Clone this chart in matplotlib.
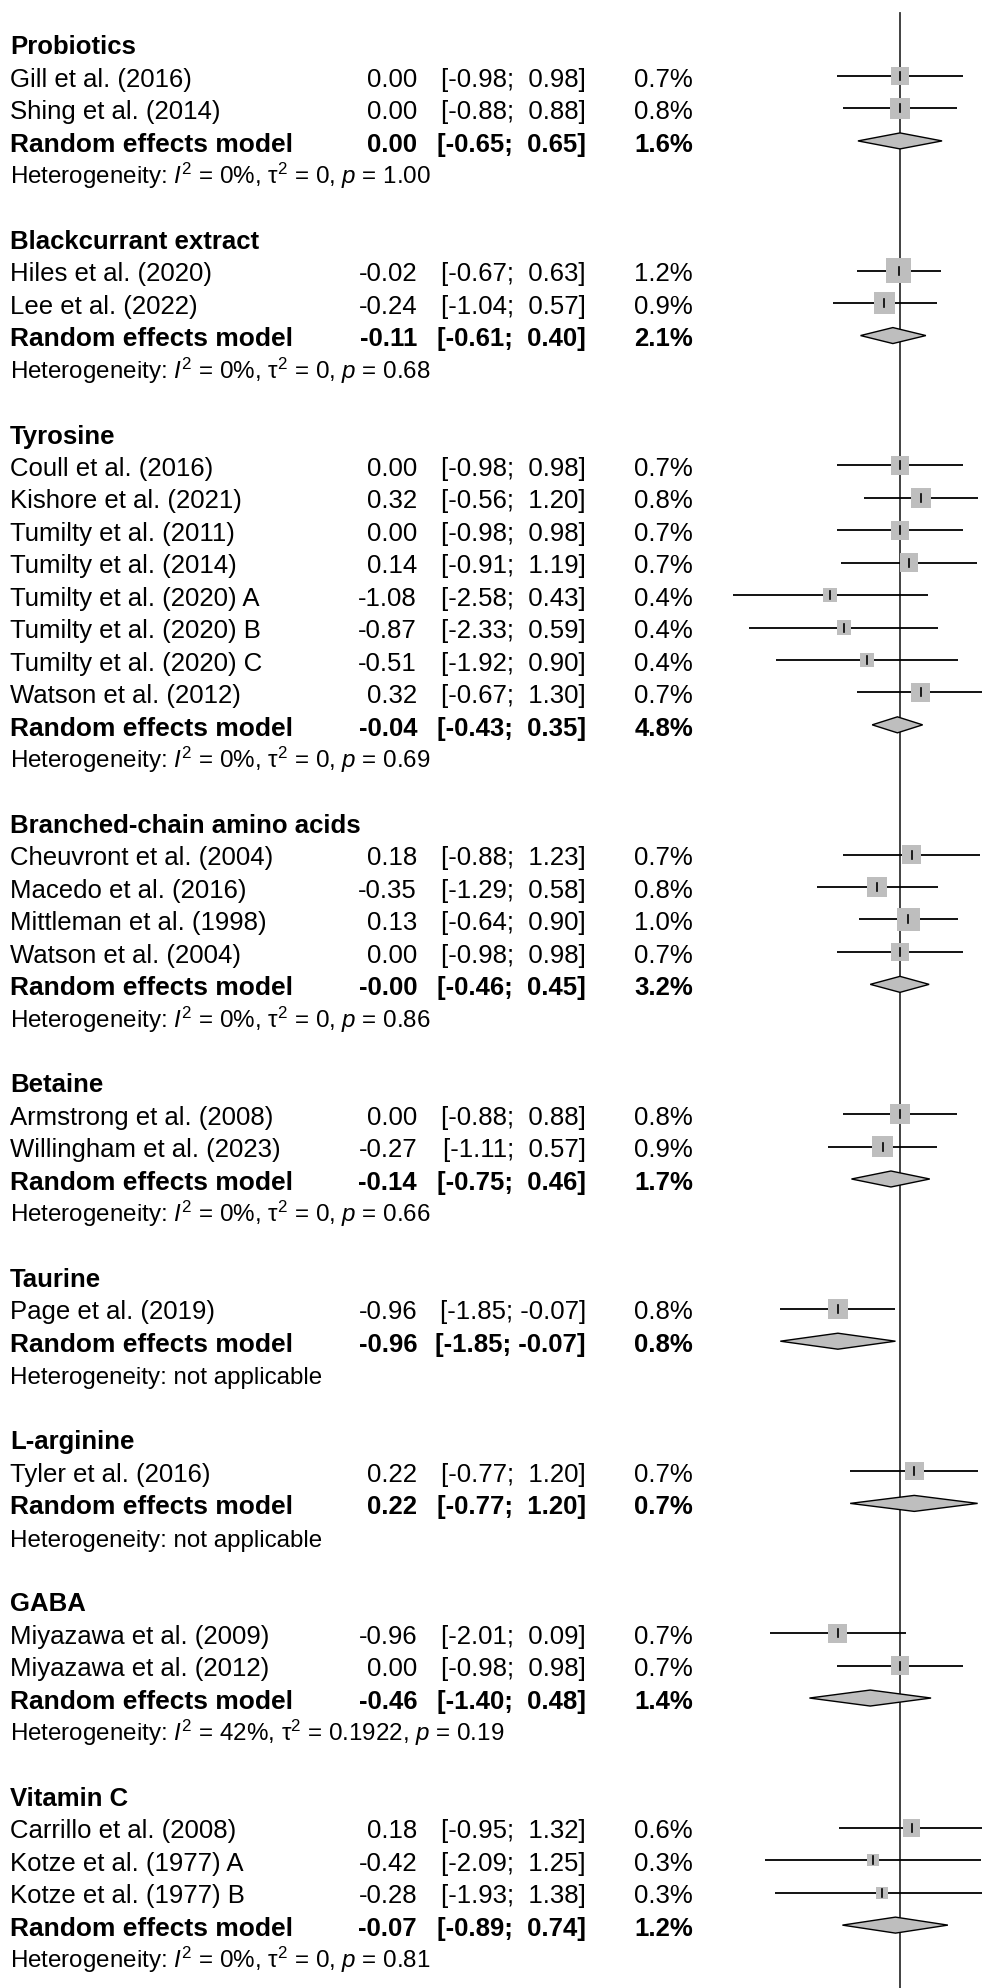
import math
import matplotlib
matplotlib.use("Agg")
import matplotlib.pyplot as plt
from matplotlib.patches import Rectangle, Polygon
from matplotlib import transforms

# ---------------------------------------------------------------- data
groups = ["Probiotics", "Blackcurrant extract", "Tyrosine",
          "Branched-chain amino acids", "Betaine", "Taurine",
          "L-arginine", "GABA", "Vitamin C"]

studies = [
    ["Gill et al. (2016)", "Shing et al. (2014)"],
    ["Hiles et al. (2020)", "Lee et al. (2022)"],
    ["Coull et al. (2016)", "Kishore et al. (2021)", "Tumilty et al. (2011)",
     "Tumilty et al. (2014)", "Tumilty et al. (2020) A", "Tumilty et al. (2020) B",
     "Tumilty et al. (2020) C", "Watson et al. (2012)"],
    ["Cheuvront et al. (2004)", "Macedo et al. (2016)", "Mittleman et al. (1998)",
     "Watson et al. (2004)"],
    ["Armstrong et al. (2008)", "Willingham et al. (2023)"],
    ["Page et al. (2019)"],
    ["Tyler et al. (2016)"],
    ["Miyazawa et al. (2009)", "Miyazawa et al. (2012)"],
    ["Carrillo et al. (2008)", "Kotze et al. (1977) A", "Kotze et al. (1977) B"],
]

est = [
    [0.00, 0.00],
    [-0.02, -0.24],
    [0.00, 0.32, 0.00, 0.14, -1.08, -0.87, -0.51, 0.32],
    [0.18, -0.35, 0.13, 0.00],
    [0.00, -0.27],
    [-0.96],
    [0.22],
    [-0.96, 0.00],
    [0.18, -0.42, -0.28],
]
lower = [
    [-0.98, -0.88],
    [-0.67, -1.04],
    [-0.98, -0.56, -0.98, -0.91, -2.58, -2.33, -1.92, -0.67],
    [-0.88, -1.29, -0.64, -0.98],
    [-0.88, -1.11],
    [-1.85],
    [-0.77],
    [-2.01, -0.98],
    [-0.95, -2.09, -1.93],
]
upper = [
    [0.98, 0.88],
    [0.63, 0.57],
    [0.98, 1.20, 0.98, 1.19, 0.43, 0.59, 0.90, 1.30],
    [1.23, 0.58, 0.90, 0.98],
    [0.88, 0.57],
    [-0.07],
    [1.20],
    [0.09, 0.98],
    [1.32, 1.25, 1.38],
]
weight = [
    [0.7, 0.8],
    [1.2, 0.9],
    [0.7, 0.8, 0.7, 0.7, 0.4, 0.4, 0.4, 0.7],
    [0.7, 0.8, 1.0, 0.7],
    [0.8, 0.9],
    [0.8],
    [0.7],
    [0.7, 0.7],
    [0.6, 0.3, 0.3],
]

re_est = [0.00, -0.11, -0.04, -0.0, -0.14, -0.96, 0.22, -0.46, -0.07]
re_lower = [-0.65, -0.61, -0.43, -0.46, -0.75, -1.85, -0.77, -1.40, -0.89]
re_upper = [0.65, 0.40, 0.35, 0.45, 0.46, -0.07, 1.20, 0.48, 0.74]
re_weight = [1.6, 2.1, 4.8, 3.2, 1.7, 0.8, 0.7, 1.4, 1.2]

# heterogeneity: (I2 %, tau2 label, p label); None = not applicable
het_i2 = [0, 0, 0, 0, 0, None, None, 42, 0]
het_tau2 = ["0", "0", "0", "0", "0", None, None, "0.1922", "0"]
het_p = ["1.00", "0.68", "0.69", "0.86", "0.66", None, None, "0.19", "0.81"]

# ---------------------------------------------------------------- layout
W, H, DPI = 982, 1988, 100
ROW_PX = 32.44        # vertical distance between rows (px)
ROW0_PX = 43.6        # centre of first row from top (px)
UNIT_PX = 64.7        # px per unit of effect size
ZERO_PX = 900         # horizontal position of the no-effect line (px)
LINE_TOP_PX = 13

X_LABEL = 10
X_EST = 417
X_CI = 586
X_W = 693

FS = 18.5
FS_MODEL = 19.0
FS_HET = 17.4
SQ_K = 22.5           # square side (px) per sqrt(weight %)
DIA_HALF_PX = 8       # diamond half height (px)
TICK_HALF_PX = 4

plt.rcParams["font.family"] = ["Liberation Sans", "DejaVu Sans"]
plt.rcParams["mathtext.fontset"] = "custom"
plt.rcParams["mathtext.rm"] = "Liberation Sans"
plt.rcParams["mathtext.it"] = "Liberation Sans:italic"
plt.rcParams["mathtext.bf"] = "Liberation Sans:bold"

fig = plt.figure(figsize=(W / DPI, H / DPI), dpi=DPI)
ax = fig.add_axes([0, 0, 1, 1])
ax.set_xlim(-ZERO_PX / UNIT_PX, (W - ZERO_PX) / UNIT_PX)
ax.set_ylim((H - ROW0_PX) / ROW_PX, -ROW0_PX / ROW_PX)
ax.axis("off")

# text x in pixels, y in row units
txt_tr = transforms.blended_transform_factory(transforms.IdentityTransform(), ax.transData)
BASE = 10.7 / ROW_PX  # baseline offset below row centre

dx_px = 1.0 / UNIT_PX
dy_px = 1.0 / ROW_PX


def put(x, row, s, ha="left", bold=False, size=FS):
    ax.text(x, row + BASE, s, transform=txt_tr, ha=ha, va="baseline",
            fontsize=size, fontweight="bold" if bold else "normal", color="black")


def ci_str(lo, hi):
    return "[{:.2f}; {:>5.2f}]".format(lo, hi)


row = 0
for g, name in enumerate(groups):
    put(X_LABEL, row, name, bold=True)
    row += 1
    for s, lab in enumerate(studies[g]):
        e, lo, hi, w = est[g][s], lower[g][s], upper[g][s], weight[g][s]
        put(X_LABEL, row, lab)
        put(X_EST, row, "{:.2f}".format(e), ha="right")
        put(X_CI, row, ci_str(lo, hi), ha="right")
        put(X_W, row, "{:.1f}%".format(w), ha="right")
        ax.plot([lo, hi], [row, row], color="black", lw=1.3, zorder=3,
                solid_capstyle="butt")
        side = SQ_K * math.sqrt(w)
        ax.add_patch(Rectangle((e - side / 2 * dx_px, row - side / 2 * dy_px),
                               side * dx_px, side * dy_px,
                               facecolor="#bebebe", edgecolor="none", zorder=4))
        ax.plot([e, e], [row - TICK_HALF_PX * dy_px, row + TICK_HALF_PX * dy_px],
                color="black", lw=1.2, zorder=5)
        row += 1
    # pooled estimate
    put(X_LABEL, row, "Random effects model", bold=True, size=FS_MODEL)
    put(X_EST, row, "{:.2f}".format(re_est[g]), ha="right", bold=True)
    put(X_CI, row, ci_str(re_lower[g], re_upper[g]), ha="right", bold=True)
    put(X_W, row, "{:.1f}%".format(re_weight[g]), ha="right", bold=True)
    ax.add_patch(Polygon([(re_lower[g], row),
                          (re_est[g], row - DIA_HALF_PX * dy_px),
                          (re_upper[g], row),
                          (re_est[g], row + DIA_HALF_PX * dy_px)],
                         closed=True, facecolor="#bebebe", edgecolor="black",
                         lw=1.0, zorder=4))
    row += 1
    if het_i2[g] is None:
        het = "Heterogeneity: not applicable"
    else:
        het = (r"Heterogeneity: $I^2$ = " + "{}%".format(het_i2[g]) +
               r", $\mathrm{\tau}^2$ = " + het_tau2[g] + r", $p$ = " + het_p[g])
    put(X_LABEL, row, het, size=FS_HET)
    row += 2

# line of no effect
ax.plot([0, 0], [(LINE_TOP_PX - ROW0_PX) / ROW_PX, (H - ROW0_PX) / ROW_PX],
        color="#333333", lw=1.3, zorder=2)

fig.savefig("out.png", dpi=DPI)
